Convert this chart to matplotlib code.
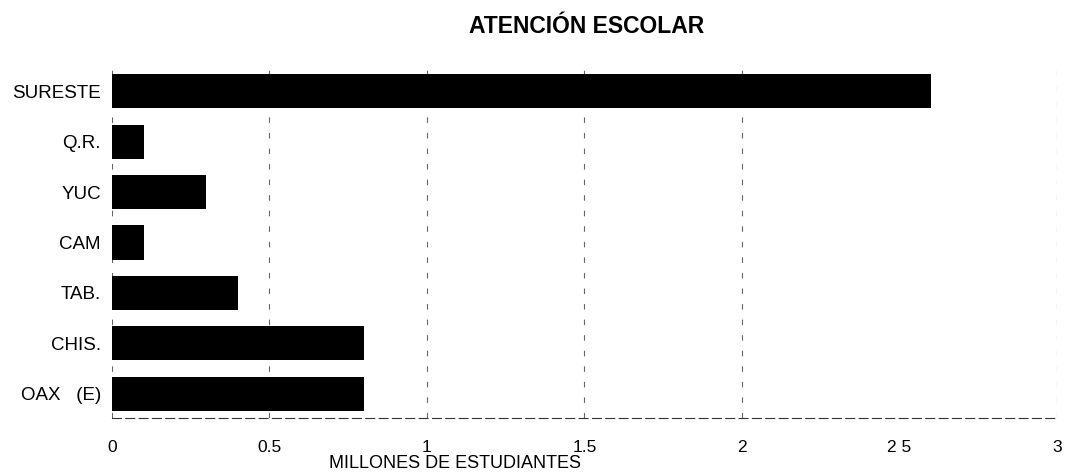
import matplotlib
matplotlib.use("Agg")
import matplotlib.pyplot as plt

# Datos (millones de estudiantes)
categorias = ["OAX   (E)", "CHIS.", "TAB.", "CAM", "YUC", "Q.R.", "SURESTE"]
valores = [0.80, 0.80, 0.40, 0.10, 0.30, 0.10, 2.60]
ticks_x = [0, 0.5, 1, 1.5, 2, 2.5, 3]
etiquetas_x = ["0", "0.5", "1", "1.5", "2", "2 5", "3"]

plt.rcParams['font.family'] = ['Liberation Sans', 'DejaVu Sans']

fig = plt.figure(figsize=(10.74, 4.76), dpi=100)
ax = fig.add_axes([0.1043, 0.122, 0.8797, 0.737])

# lineas de guia punteadas
for xv in [0, 0.5, 1, 1.5, 2, 3]:
    ax.axvline(xv, color="#666666", linewidth=0.8, linestyle=(0, (5, 9)), zorder=0)

ax.barh(range(len(categorias)), valores, height=0.68, color="black", zorder=2)

ax.set_xlim(0, 3)
ax.set_ylim(-0.48, 6.48)
ax.set_yticks(range(len(categorias)))
ax.set_yticklabels(categorias, fontsize=13.5)
ax.set_xticks(ticks_x)
ax.set_xticklabels(etiquetas_x, fontsize=12.5)
ax.tick_params(axis="x", length=0, pad=16)
ax.tick_params(axis="y", length=0, pad=8)

for lado in ["top", "right", "left"]:
    ax.spines[lado].set_visible(False)
ax.spines["bottom"].set_linestyle((0, (8, 4)))
ax.spines["bottom"].set_color("#333333")
ax.spines["bottom"].set_linewidth(0.8)

fig.text(0.546, 0.945, "ATENCIÓN ESCOLAR", fontsize=16.5, fontweight="bold",
         ha="center", va="center")
fig.text(0.424, 0.026, "MILLONES DE ESTUDIANTES", fontsize=13,
         ha="center", va="center")

fig.savefig("out.png", dpi=100)
